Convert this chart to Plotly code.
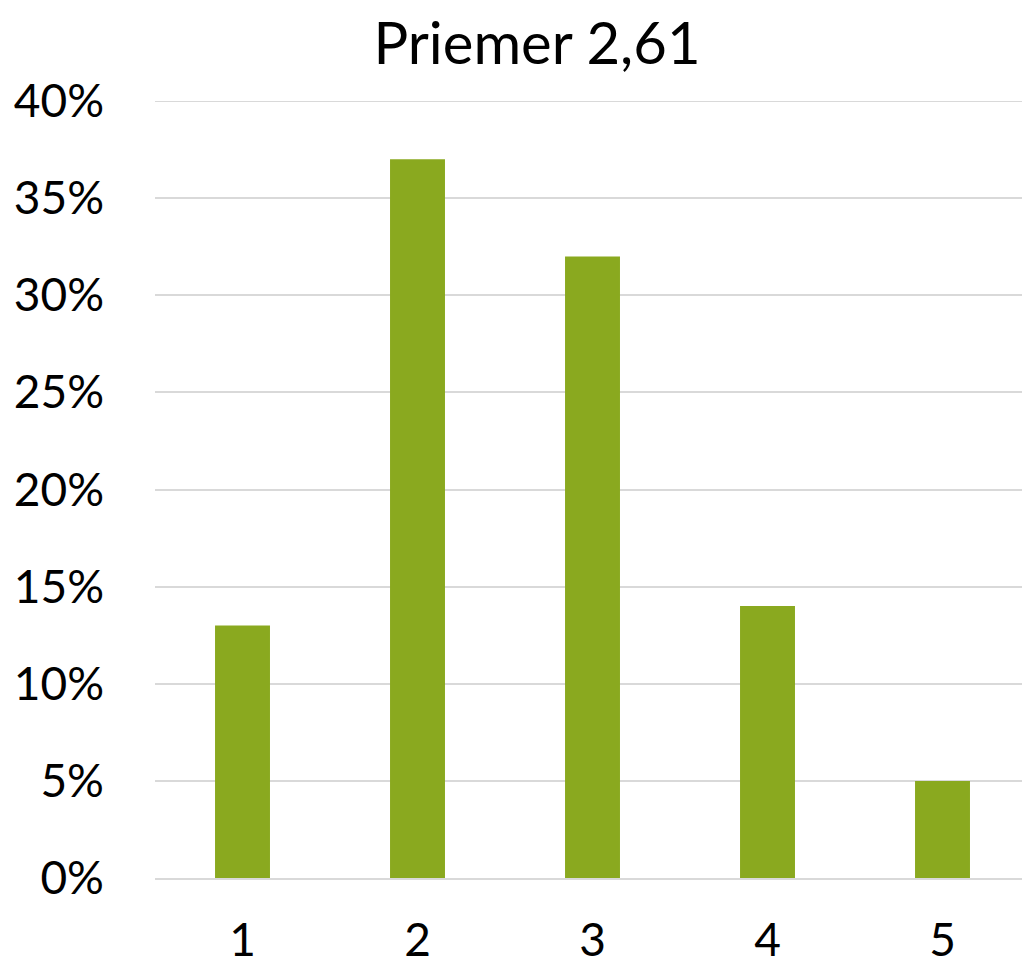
import plotly.graph_objects as go

categories = ["1", "2", "3", "4", "5"]
values = [0.13, 0.37, 0.32, 0.14, 0.05]
title_text = "Priemer 2,61"

W, H = 1022, 959  # page has an 8px body margin

fig = go.Figure(
    go.Bar(x=categories, y=values, marker=dict(color="#8AA91F", line=dict(width=0)))
)

fig.update_layout(
    width=W,
    height=H,
    paper_bgcolor="white",
    plot_bgcolor="white",
    font=dict(family="Lato", color="black"),
    title=dict(text=title_text, x=(537 - 8) / W, xanchor="center", y=1 - 36 / H,
               yanchor="middle", font=dict(size=58, color="black")),
    margin=dict(l=147, r=0, t=93, b=89, autoexpand=False),
    bargap=0.686,
    showlegend=False,
    shapes=[dict(type="line", xref="paper", yref="y", x0=0, x1=1, y0=0.4, y1=0.4,
                 line=dict(color="#D9D9D9", width=2), layer="below")],
)

fig.update_xaxes(
    type="category",
    automargin=False,
    showgrid=False,
    showline=True,
    linecolor="#D9D9D9",
    linewidth=2,
    ticks="outside",
    ticklen=21,
    tickcolor="rgba(0,0,0,0)",
    tickfont=dict(size=46),
)
fig.update_yaxes(
    range=[0, 0.4],
    automargin=False,
    dtick=0.05,
    tickformat=".0%",
    showgrid=True,
    gridcolor="#D9D9D9",
    gridwidth=2,
    zeroline=False,
    showline=False,
    ticks="",
    ticklabelstandoff=50,
    tickfont=dict(size=46),
)

fig.write_html("out.html")
